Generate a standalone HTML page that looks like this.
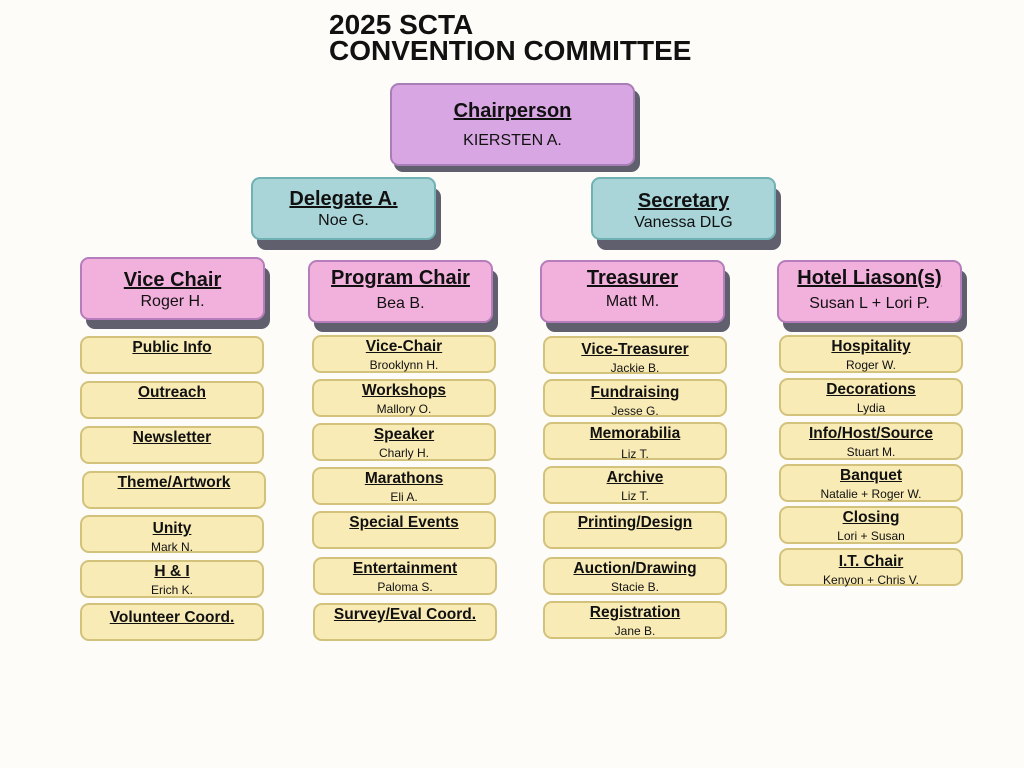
<!DOCTYPE html>
<html><head><meta charset="utf-8"><style>
body{margin:0;width:1024px;height:768px;background:#fdfcf8;position:relative;overflow:hidden;font-family:"Liberation Sans",sans-serif;color:#111}
.t{position:absolute;left:329px;top:12px;font-weight:bold;font-size:28px;line-height:26px;letter-spacing:0px}
.b{position:absolute;box-sizing:border-box;border-radius:9px;text-align:center}
.sh{position:absolute;background:#5f5f6d;border-radius:9px}
.b .h{display:block;font-weight:bold;text-decoration:underline}
.y{width:184px;height:38px;background:#f9ebb6;border:2px solid #d3c27c}
.y .h{font-size:15.5px;line-height:18px;margin-top:1px}
.y .n{font-size:12px;line-height:14px}
.p{background:#f2b1dc;border:2px solid #b57dbb}
.g{background:#a9d5d8;border:2px solid #70b1b3}
.big .h{font-size:20px;line-height:24px}
.big .n{font-size:16px;line-height:20px}
</style></head><body>
<div class="t">2025 SCTA<br>CONVENTION COMMITTEE</div>

<div class="sh" style="left:394px;top:90px;width:246px;height:82px"></div>
<div class="b big" style="left:390px;top:83px;width:245px;height:83px;background:#d8a7e3;border:2px solid #a87eb6;"><span class="h" style="margin-top:14px">Chairperson</span><span class="n" style="display:block;margin-top:8px">KIERSTEN A.</span></div>

<div class="sh" style="left:257px;top:188px;width:184px;height:62px"></div>
<div class="b big g" style="left:251px;top:177px;width:185px;height:63px"><span class="h" style="margin-top:8px">Delegate A.</span><span class="n">Noe G.</span></div>
<div class="sh" style="left:597px;top:188px;width:184px;height:62px"></div>
<div class="b big g" style="left:591px;top:177px;width:185px;height:63px"><span class="h" style="margin-top:10px">Secretary</span><span class="n">Vanessa DLG</span></div>

<div class="sh" style="left:86px;top:267px;width:184px;height:62px"></div>
<div class="b big p" style="left:80px;top:257px;width:185px;height:63px"><span class="h" style="margin-top:9px">Vice Chair</span><span class="n">Roger H.</span></div>
<div class="sh" style="left:314px;top:270px;width:184px;height:62px"></div>
<div class="b big p" style="left:308px;top:260px;width:185px;height:63px"><span class="h" style="margin-top:4px">Program Chair</span><span class="n" style="margin-top:4px;display:block">Bea B.</span></div>
<div class="sh" style="left:546px;top:270px;width:184px;height:62px"></div>
<div class="b big p" style="left:540px;top:260px;width:185px;height:63px"><span class="h" style="margin-top:4px">Treasurer</span><span class="n" style="margin-top:2px;display:block">Matt M.</span></div>
<div class="sh" style="left:783px;top:270px;width:184px;height:62px"></div>
<div class="b big p" style="left:777px;top:260px;width:185px;height:63px"><span class="h" style="margin-top:4px">Hotel Liason(s)</span><span class="n" style="margin-top:4px;display:block">Susan L + Lori P.</span></div>

<!-- col1 -->
<div class="b y" style="left:80px;top:336px"><span class="h">Public Info</span></div>
<div class="b y" style="left:80px;top:381px"><span class="h">Outreach</span></div>
<div class="b y" style="left:80px;top:426px"><span class="h">Newsletter</span></div>
<div class="b y" style="left:82px;top:471px"><span class="h">Theme/Artwork</span></div>
<div class="b y" style="left:80px;top:515px"><span class="h" style="margin-top:3px">Unity</span><span class="n">Mark N.</span></div>
<div class="b y" style="left:80px;top:560px"><span class="h">H &amp; I</span><span class="n">Erich K.</span></div>
<div class="b y" style="left:80px;top:603px"><span class="h" style="margin-top:4px">Volunteer Coord.</span></div>
<!-- col2 -->
<div class="b y" style="left:312px;top:335px"><span class="h">Vice-Chair</span><span class="n">Brooklynn H.</span></div>
<div class="b y" style="left:312px;top:379px"><span class="h">Workshops</span><span class="n">Mallory O.</span></div>
<div class="b y" style="left:312px;top:423px"><span class="h">Speaker</span><span class="n">Charly H.</span></div>
<div class="b y" style="left:312px;top:467px"><span class="h">Marathons</span><span class="n">Eli A.</span></div>
<div class="b y" style="left:312px;top:511px"><span class="h">Special Events</span></div>
<div class="b y" style="left:313px;top:557px"><span class="h">Entertainment</span><span class="n">Paloma S.</span></div>
<div class="b y" style="left:313px;top:603px"><span class="h">Survey/Eval Coord.</span></div>
<!-- col3 -->
<div class="b y" style="left:543px;top:336px"><span class="h" style="margin-top:3px">Vice-Treasurer</span><span class="n">Jackie B.</span></div>
<div class="b y" style="left:543px;top:379px"><span class="h" style="margin-top:3px">Fundraising</span><span class="n">Jesse G.</span></div>
<div class="b y" style="left:543px;top:422px"><span class="h">Memorabilia</span><span class="n" style="display:block;margin-top:4px">Liz T.</span></div>
<div class="b y" style="left:543px;top:466px"><span class="h">Archive</span><span class="n">Liz T.</span></div>
<div class="b y" style="left:543px;top:511px"><span class="h">Printing/Design</span></div>
<div class="b y" style="left:543px;top:557px"><span class="h">Auction/Drawing</span><span class="n">Stacie B.</span></div>
<div class="b y" style="left:543px;top:601px"><span class="h">Registration</span><span class="n">Jane B.</span></div>
<!-- col4 -->
<div class="b y" style="left:779px;top:335px"><span class="h">Hospitality</span><span class="n">Roger W.</span></div>
<div class="b y" style="left:779px;top:378px"><span class="h">Decorations</span><span class="n">Lydia</span></div>
<div class="b y" style="left:779px;top:422px"><span class="h">Info/Host/Source</span><span class="n">Stuart M.</span></div>
<div class="b y" style="left:779px;top:464px"><span class="h">Banquet</span><span class="n">Natalie + Roger W.</span></div>
<div class="b y" style="left:779px;top:506px"><span class="h">Closing</span><span class="n">Lori + Susan</span></div>
<div class="b y" style="left:779px;top:548px"><span class="h" style="margin-top:3px">I.T. Chair</span><span class="n">Kenyon + Chris V.</span></div>
</body></html>
